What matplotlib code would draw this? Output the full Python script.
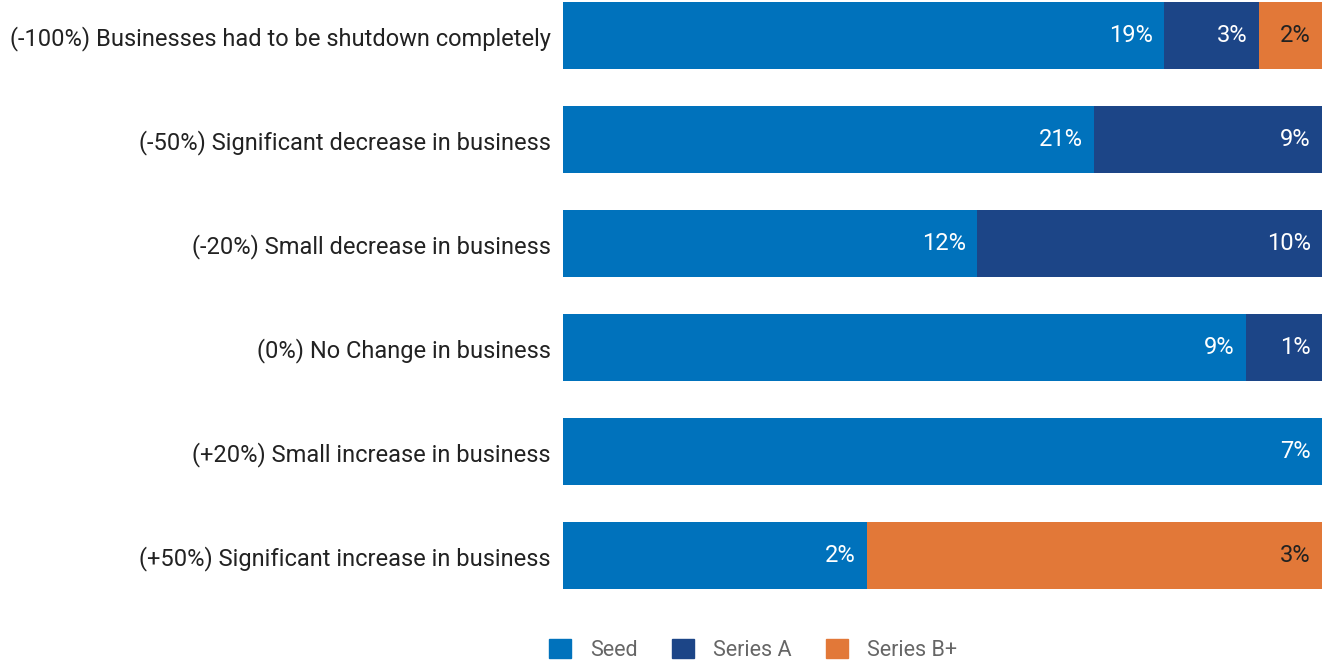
import matplotlib.pyplot as plt
import numpy as np
from matplotlib.patches import Patch

plt.rcParams["font.family"] = ["Roboto", "DejaVu Sans"]

categories = [
    "(-100%) Businesses had to be shutdown completely",
    "(-50%) Significant decrease in business",
    "(-20%) Small decrease in business",
    "(0%) No Change in business",
    "(+20%) Small increase in business",
    "(+50%) Significant increase in business",
]
seed = [19, 21, 12, 9, 7, 2]
series_a = [3, 9, 10, 1, 0, 0]
series_b = [2, 0, 0, 0, 0, 3]

series_names = ["Seed", "Series A", "Series B+"]
colors = ["#0072BC", "#1C4587", "#E27838"]
label_colors = ["white", "white", "#222222"]

data = np.array([seed, series_a, series_b], dtype=float)
totals = data.sum(axis=0)
shares = data / totals

fig = plt.figure(figsize=(13.26, 6.6), dpi=100)
ax = fig.add_axes([563 / 1326, 1 - 589 / 660, (1322 - 563) / 1326, 587 / 660])

y = np.arange(len(categories))
left = np.zeros(len(categories))
for i, name in enumerate(series_names):
    ax.barh(y, shares[i], left=left, height=0.64, color=colors[i], label=name)
    for j in range(len(categories)):
        if data[i, j] > 0:
            ax.annotate(f"{int(data[i, j])}%", (left[j] + shares[i, j], y[j]),
                        xytext=(-8, 0), textcoords="offset points",
                        ha="right", va="center", fontsize=17,
                        color=label_colors[i])
    left += shares[i]

ax.set_xlim(0, 1)
ax.set_ylim(5.32, -0.32)
ax.set_yticks(y)
ax.set_yticklabels(categories, fontsize=17, color="#222222")
ax.tick_params(axis="y", length=0, pad=9)
ax.set_xticks([])
for s in ax.spines.values():
    s.set_visible(False)

handles = [Patch(color=c) for c in colors]
fig.legend(handles, series_names, loc="center", bbox_to_anchor=(0.568, 0.015),
           ncol=3, frameon=False, fontsize=15.5, labelcolor="#666666",
           handlelength=1.0, handleheight=1.0, columnspacing=1.6, handletextpad=0.9)

fig.savefig("out.png", dpi=100)
